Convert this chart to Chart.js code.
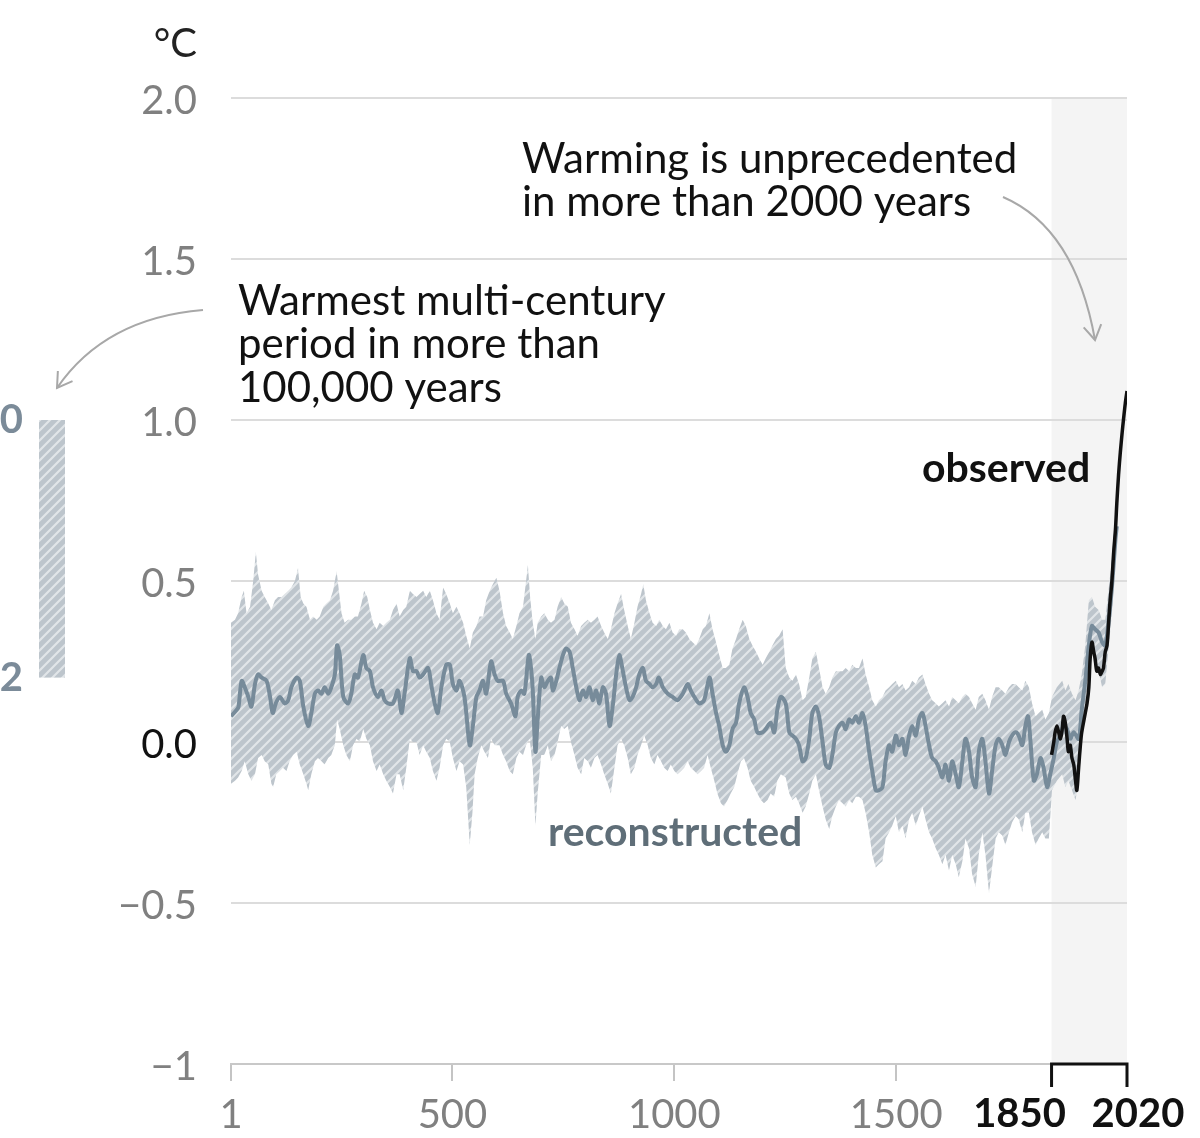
<!DOCTYPE html>
<html>
<head>
<meta charset="utf-8">
<title>Global surface temperature, years 1–2020</title>
<script src="https://cdn.jsdelivr.net/npm/chart.js@4.4.1/dist/chart.umd.min.js"></script>
<style>
  html, body { margin: 0; padding: 0; background: #fff; }
  #wrap { width: 1200px; height: 1138px; }
</style>
</head>
<body>
<div id="wrap"><canvas id="chart" width="1200" height="1138"></canvas></div>
<script>
// reconstructed median (°C relative to 1850-1900)
const medianYears = [1,14,18,25,32,40,47,55,62,70,81,89,95,102,111,122,130,137,149,156,164,175,182,190,197,205,212,220,227,235,240,246,254,265,272,280,287,299,306,314,321,332,340,347,355,366,377,385,392,404,411,419,426,434,445,452,460,467,475,486,494,501,509,516,527,539,546,554,561,569,576,587,595,602,
  614,621,632,642,647,655,662,672,677,681,687,692,700,707,715,722,726,734,741,749,756,764,771,779,786,794,801,809,816,824,831,839,846,854,861,869,876,884,891,899,906,914,921,929,936,944,951,959,965,974,985,996,1007,1019,1030,1037,1045,1056,1067,1079,1086,1094,1101,1109,1116,1124,1131,1139,1146,1157,1165,1172,1180,1187,1199,1206,1217,1225,1232,1240,
  1251,1259,1266,1274,1281,1289,1296,1304,1311,1319,1326,1334,1341,1349,1356,1364,1371,1379,1386,1394,1401,1409,1416,1424,1431,1439,1446,1454,1461,1469,1476,1484,1491,1499,1506,1514,1521,1529,1536,1544,1551,1559,1566,1574,1581,1589,1596,1604,1611,1619,1626,1634,1641,1649,1656,1664,1671,1679,1686,1694,1701,1709,1716,1724,1731,1739,1746,1754,1761,1769,1776,1784,1791,1797,1802,1810,1817,1825,1832,1840,1847,1855,1862,1870,1877,1885,1892,1900,1911,1918,1926,1934,1941,1948,1956,1964,1971,1979,1986,1994,1997];
const medianTemps = [0.08,0.10,0.11,0.19,0.17,0.14,0.11,0.18,0.21,0.20,0.19,0.14,0.09,0.12,0.14,0.12,0.13,0.17,0.20,0.19,0.11,0.05,0.09,0.15,0.16,0.15,0.17,0.15,0.17,0.21,0.30,0.27,0.14,0.12,0.15,0.21,0.20,0.27,0.23,0.22,0.17,0.14,0.16,0.13,0.12,0.12,0.16,0.09,0.15,0.26,0.22,0.22,0.20,0.21,0.23,0.18,0.12,0.09,0.17,0.24,0.24,0.18,0.16,0.19,0.14,-0.01,0.05,0.14,0.16,0.19,0.15,0.25,0.21,0.19,
  0.19,0.15,0.12,0.08,0.14,0.16,0.15,0.27,0.23,0.16,-0.03,0.07,0.20,0.17,0.19,0.20,0.16,0.19,0.23,0.27,0.29,0.28,0.23,0.17,0.13,0.16,0.14,0.17,0.13,0.16,0.12,0.17,0.15,0.05,0.11,0.21,0.27,0.22,0.17,0.13,0.14,0.17,0.21,0.23,0.19,0.18,0.17,0.18,0.20,0.17,0.15,0.14,0.13,0.15,0.18,0.16,0.14,0.12,0.13,0.20,0.15,0.09,0.05,-0.01,-0.03,-0.01,0.04,0.06,0.12,0.17,0.14,0.09,0.07,0.03,0.03,0.04,0.06,0.03,0.10,0.14,
  0.12,0.03,0.02,0.01,-0.01,-0.06,-0.05,0.01,0.09,0.11,0.08,0.00,-0.07,-0.08,-0.04,0.03,0.05,0.06,0.04,0.07,0.06,0.08,0.06,0.09,0.05,-0.03,-0.09,-0.15,-0.15,-0.14,-0.06,-0.01,-0.03,0.02,-0.01,0.01,-0.04,0.02,0.05,0.02,0.07,0.09,0.05,-0.01,-0.05,-0.06,-0.08,-0.11,-0.07,-0.12,-0.06,-0.10,-0.14,-0.06,0.01,-0.03,-0.11,-0.14,-0.03,0.01,-0.06,-0.16,-0.09,-0.01,0.01,-0.01,-0.04,0.00,0.02,0.03,0.02,-0.01,0.05,0.08,0.01,-0.12,-0.10,-0.05,-0.08,-0.14,-0.10,-0.05,0.00,0.02,0.05,0.04,0.01,0.03,0.01,0.10,0.19,0.30,0.36,0.35,0.34,0.31,0.30,0.38,0.48,0.63,0.67];

// upper edge of the reconstruction range
const upperYears = [1,10,17,25,30,36,44,51,57,62,70,77,85,92,100,107,115,122,130,137,145,152,158,164,171,179,186,194,201,209,216,224,231,239,245,250,257,265,272,280,287,295,301,308,314,321,329,336,344,351,359,366,374,381,389,396,404,411,419,426,434,441,449,456,464,471,479,486,494,501,509,516,524,531,539,546,554,561,569,576,584,591,599,
  606,614,621,629,636,644,651,659,665,670,675,681,687,692,700,707,715,722,730,737,745,752,760,767,775,782,790,797,805,812,820,827,835,842,850,857,865,872,880,887,895,902,910,917,925,930,936,944,951,959,966,974,981,989,996,1004,1011,1019,1026,1034,1041,1049,1056,1064,1071,1079,1086,1094,1101,1109,1116,1124,1131,1139,1146,1154,1161,1169,1176,1184,1191,1199,1206,1214,1221,1229,1236,1244,
  1251,1259,1266,1274,1281,1289,1296,1304,1311,1319,1326,1334,1341,1349,1356,1364,1371,1379,1386,1394,1401,1409,1416,1424,1431,1439,1446,1454,1461,1469,1476,1484,1491,1499,1506,1514,1521,1529,1536,1544,1551,1559,1566,1574,1581,1589,1596,1604,1611,1619,1626,1634,1641,1649,1656,1664,1671,1679,1686,1694,1701,1709,1716,1724,1731,1739,1746,1754,1761,1769,1776,1784,1791,1799,1806,1814,1821,1829,1836,1844,1851,1862,1874,1881,1888,1896,1904,1911,1918,1926,1934,1941,1948,1956,1964,1971,1979,1986,1994,1997];
const upperTemps = [0.37,0.38,0.40,0.45,0.47,0.40,0.42,0.50,0.59,0.52,0.47,0.45,0.43,0.41,0.44,0.45,0.45,0.46,0.47,0.48,0.50,0.54,0.45,0.43,0.42,0.38,0.39,0.38,0.39,0.42,0.43,0.44,0.47,0.53,0.46,0.40,0.37,0.38,0.38,0.39,0.39,0.43,0.47,0.45,0.41,0.37,0.35,0.37,0.36,0.37,0.38,0.41,0.43,0.39,0.41,0.42,0.47,0.46,0.45,0.46,0.47,0.45,0.47,0.44,0.40,0.38,0.48,0.46,0.43,0.40,0.42,0.40,0.37,0.33,0.29,0.34,0.36,0.39,0.39,0.44,0.47,0.49,0.51,
  0.47,0.40,0.36,0.34,0.32,0.36,0.40,0.42,0.49,0.55,0.45,0.37,0.32,0.37,0.39,0.40,0.38,0.37,0.38,0.42,0.45,0.43,0.42,0.37,0.35,0.33,0.36,0.37,0.38,0.37,0.38,0.39,0.36,0.34,0.32,0.35,0.40,0.43,0.46,0.41,0.36,0.32,0.37,0.42,0.46,0.49,0.44,0.40,0.37,0.36,0.38,0.36,0.35,0.37,0.34,0.33,0.35,0.35,0.34,0.32,0.31,0.30,0.32,0.35,0.36,0.40,0.35,0.31,0.27,0.23,0.23,0.24,0.29,0.32,0.35,0.38,0.36,0.32,0.30,0.28,0.26,0.24,0.26,0.28,0.30,0.32,0.33,0.35,
  0.23,0.20,0.19,0.21,0.18,0.13,0.14,0.20,0.26,0.28,0.23,0.17,0.15,0.17,0.20,0.22,0.22,0.22,0.23,0.22,0.24,0.23,0.23,0.26,0.21,0.17,0.13,0.11,0.13,0.14,0.16,0.17,0.18,0.19,0.17,0.18,0.16,0.17,0.19,0.18,0.20,0.21,0.18,0.15,0.13,0.12,0.11,0.12,0.13,0.11,0.14,0.13,0.12,0.14,0.15,0.14,0.12,0.10,0.14,0.15,0.13,0.10,0.14,0.17,0.17,0.16,0.15,0.17,0.18,0.18,0.17,0.16,0.19,0.17,0.12,0.08,0.09,0.10,0.07,0.09,0.14,0.17,0.19,0.16,0.18,0.15,0.13,0.16,0.21,0.30,0.44,0.45,0.42,0.41,0.38,0.38,0.48,0.57,0.67,0.72];

// lower edge of the reconstruction range
const lowerYears = [1,10,17,25,32,40,47,55,62,70,77,85,92,96,103,111,118,126,133,141,149,156,164,171,175,182,190,197,205,212,220,227,235,240,246,254,261,269,276,284,291,299,306,314,321,329,336,344,351,359,366,374,381,389,396,404,411,419,426,434,441,449,456,464,471,479,486,494,501,509,516,524,531,539,545,550,557,565,572,580,587,595,
  606,614,621,629,636,644,651,659,666,674,681,687,692,700,707,715,722,730,737,745,752,760,767,775,782,790,797,805,812,820,827,835,842,850,857,865,872,880,887,895,902,910,917,925,932,940,947,955,962,970,977,985,992,1000,1007,1015,1022,1030,1037,1045,1052,1060,1067,1075,1082,1090,1097,1105,1112,1120,1127,1135,1142,1150,1157,1165,1172,1180,1187,1195,1202,1210,1217,1225,1232,1240,
  1251,1259,1266,1274,1281,1289,1296,1304,1311,1319,1326,1334,1341,1349,1356,1364,1371,1379,1386,1394,1401,1409,1416,1424,1431,1439,1446,1454,1461,1469,1476,1484,1491,1499,1506,1514,1521,1529,1536,1544,1551,1559,1566,1574,1581,1589,1596,1604,1611,1619,1626,1634,1641,1649,1656,1664,1671,1679,1686,1694,1701,1709,1716,1724,1731,1739,1746,1754,1761,1769,1776,1784,1791,1799,1806,1814,1821,1829,1836,1844,1851,1862,1874,1881,1888,1896,1904,1911,1918,1926,1934,1941,1948,1956,1964,1971,1979,1986,1994,1997];
const lowerTemps = [-0.13,-0.12,-0.11,-0.09,-0.06,-0.10,-0.12,-0.10,-0.05,-0.04,-0.06,-0.07,-0.13,-0.14,-0.10,-0.09,-0.08,-0.09,-0.06,-0.04,-0.03,-0.07,-0.10,-0.13,-0.15,-0.10,-0.06,-0.05,-0.06,-0.07,-0.05,-0.04,-0.01,0.07,0.04,-0.01,-0.04,-0.06,-0.01,0.01,0.00,0.04,0.01,-0.01,-0.06,-0.09,-0.07,-0.10,-0.12,-0.14,-0.16,-0.10,-0.10,-0.15,-0.08,0.01,0.00,0.00,-0.04,-0.01,-0.03,-0.05,-0.09,-0.12,-0.08,-0.01,0.01,0.00,-0.05,-0.09,-0.06,-0.07,-0.14,-0.32,-0.22,-0.10,-0.05,-0.01,-0.03,-0.05,0.01,-0.01,
  -0.01,-0.04,-0.06,-0.09,-0.10,-0.05,-0.03,-0.04,-0.01,0.01,-0.08,-0.26,-0.16,-0.04,-0.04,-0.01,-0.06,-0.04,0.00,0.05,0.04,0.05,0.00,-0.04,-0.08,-0.10,-0.05,-0.06,-0.08,-0.05,-0.04,-0.07,-0.10,-0.13,-0.16,-0.08,-0.01,0.01,-0.01,-0.05,-0.10,-0.08,-0.04,-0.01,0.02,-0.01,-0.05,-0.07,-0.04,-0.06,-0.08,-0.09,-0.07,-0.09,-0.10,-0.09,-0.08,-0.06,-0.08,-0.09,-0.10,-0.09,-0.08,-0.04,-0.08,-0.12,-0.16,-0.19,-0.20,-0.18,-0.16,-0.14,-0.10,-0.06,-0.05,-0.08,-0.12,-0.14,-0.16,-0.18,-0.19,-0.18,-0.16,-0.17,-0.12,-0.10,
  -0.11,-0.16,-0.18,-0.17,-0.19,-0.22,-0.20,-0.16,-0.12,-0.10,-0.15,-0.20,-0.24,-0.27,-0.23,-0.20,-0.18,-0.19,-0.20,-0.18,-0.19,-0.17,-0.17,-0.18,-0.22,-0.28,-0.35,-0.39,-0.38,-0.37,-0.30,-0.28,-0.26,-0.23,-0.28,-0.26,-0.30,-0.24,-0.22,-0.26,-0.23,-0.20,-0.24,-0.28,-0.30,-0.33,-0.35,-0.38,-0.35,-0.40,-0.35,-0.38,-0.42,-0.37,-0.30,-0.33,-0.41,-0.45,-0.35,-0.28,-0.35,-0.47,-0.39,-0.30,-0.28,-0.29,-0.32,-0.28,-0.25,-0.23,-0.24,-0.28,-0.22,-0.22,-0.28,-0.32,-0.30,-0.28,-0.30,-0.30,-0.15,-0.12,-0.10,-0.14,-0.12,-0.15,-0.18,-0.12,-0.01,0.09,0.19,0.28,0.23,0.22,0.17,0.18,0.30,0.40,0.59,0.62];

// observed
const observedYears = [1850,1855,1858,1862,1866,1870,1874,1877,1881,1885,1888,1892,1896,1900,1904,1907,1911,1915,1918,1926,1930,1934,1937,1941,1945,1948,1952,1956,1960,1964,1967,1971,1975,1979,1982,1986,1990,1994,1997,2001,2005,2009,2012,2016,2020];
const observedTemps = [-0.04,0.00,0.03,0.05,0.03,0.01,0.04,0.08,0.06,0.01,-0.03,-0.01,-0.05,-0.07,-0.12,-0.15,-0.08,-0.01,0.03,0.09,0.12,0.17,0.26,0.31,0.28,0.26,0.22,0.23,0.21,0.22,0.23,0.28,0.30,0.38,0.44,0.50,0.59,0.66,0.74,0.83,0.90,0.96,1.00,1.05,1.09];

const xTickYears = [1, 500, 1000, 1500, 1850, 2020];
const bracketYears = [1850, 2020];
const yTickValues = [-1, -0.5, 0, 0.5, 1, 1.5, 2];
const yTickLabels = ['\u22121', '\u22120.5', '0.0', '0.5', '1.0', '1.5', '2.0'];
const warmestPeriod = [0.2, 1.0];   // warmest multi-century period, °C
const warmestLabels = ['0.2', '1.0'];

const FONT = 'Lato, "Open Sans", sans-serif';

function toPoints(xs, ys) {
  return xs.map((x, i) => ({ x: x, y: ys[i] }));
}

function makeHatch() {
  const s = 10;
  const c = document.createElement('canvas');
  c.width = s; c.height = s;
  const g = c.getContext('2d');
  g.fillStyle = '#bdc5cc';
  g.fillRect(0, 0, s, s);
  g.strokeStyle = 'rgba(255,255,255,0.55)';
  g.lineWidth = 2.2;
  g.beginPath();
  g.moveTo(0, s); g.lineTo(s, 0);
  g.moveTo(-s / 2, s / 2); g.lineTo(s / 2, -s / 2);
  g.moveTo(s / 2, s * 1.5); g.lineTo(s * 1.5, s / 2);
  g.stroke();
  return g.createPattern(c, 'repeat');
}
const hatch = makeHatch();

function drawArrow(ctx, x0, y0, cx, cy, x1, y1) {
  ctx.beginPath();
  ctx.moveTo(x0, y0);
  ctx.quadraticCurveTo(cx, cy, x1, y1);
  ctx.stroke();
  const a = Math.atan2(y1 - cy, x1 - cx);
  const len = 17, spread = 0.55;
  ctx.beginPath();
  ctx.moveTo(x1 - len * Math.cos(a - spread), y1 - len * Math.sin(a - spread));
  ctx.lineTo(x1, y1);
  ctx.lineTo(x1 - len * Math.cos(a + spread), y1 - len * Math.sin(a + spread));
  ctx.stroke();
}

const extras = {
  id: 'extras',
  beforeDraw(chart) {
    const { ctx, chartArea, scales } = chart;
    const x0 = scales.x.getPixelForValue(bracketYears[0]);
    const x1 = scales.x.getPixelForValue(bracketYears[1]);
    ctx.save();
    ctx.fillStyle = '#f4f4f4';
    ctx.fillRect(x0, chartArea.top, x1 - x0, chartArea.bottom - chartArea.top);
    ctx.restore();
  },
  afterDraw(chart) {
    const { ctx, chartArea, scales } = chart;
    const x = scales.x, y = scales.y;
    ctx.save();

    // black bracket under 1850-2020
    const b0 = x.getPixelForValue(bracketYears[0]);
    const b1 = x.getPixelForValue(bracketYears[1]);
    const yb = chartArea.bottom;
    ctx.strokeStyle = '#111';
    ctx.lineWidth = 3;
    ctx.beginPath();
    ctx.moveTo(b0, yb + 23); ctx.lineTo(b0, yb); ctx.lineTo(b1, yb); ctx.lineTo(b1, yb + 23);
    ctx.stroke();

    ctx.fillStyle = '#111';
    ctx.font = 'bold 40px ' + FONT;
    ctx.textBaseline = 'alphabetic';
    ctx.textAlign = 'center';
    ctx.fillText(String(bracketYears[0]), b0 - 32, 1127);
    ctx.fillText(String(bracketYears[1]), b1 + 11, 1127);

    // left bar: warmest multi-century period
    const yTop = y.getPixelForValue(warmestPeriod[1]);
    const yBot = y.getPixelForValue(warmestPeriod[0]);
    ctx.fillStyle = hatch;
    ctx.fillRect(39, yTop, 26, yBot - yTop);
    ctx.fillStyle = '#7b8b99';
    ctx.font = 'bold 40px ' + FONT;
    ctx.textAlign = 'right';
    ctx.textBaseline = 'middle';
    ctx.fillText(warmestLabels[1], 23, yTop);
    ctx.fillText(warmestLabels[0], 23, yBot);

    // unit
    ctx.fillStyle = '#222';
    ctx.font = '40px ' + FONT;
    ctx.textAlign = 'right';
    ctx.textBaseline = 'alphabetic';
    ctx.fillText('\u00B0C', 197, 57);

    // annotations
    ctx.font = '42px ' + FONT;
    ctx.fillStyle = '#111';
    ctx.textAlign = 'left';
    ctx.fillText('Warmest multi-century', 238, 315);
    ctx.fillText('period in more than', 238, 358);
    ctx.fillText('100,000 years', 238, 402);
    ctx.fillText('Warming is unprecedented', 522, 173);
    ctx.fillText('in more than 2000 years', 522, 216);

    ctx.font = 'bold 41px ' + FONT;
    ctx.fillStyle = '#111';
    ctx.fillText('observed', 922, 482);
    ctx.fillStyle = '#5f6e78';
    ctx.fillText('reconstructed', 548, 846);

    // arrows
    ctx.strokeStyle = '#a8a8a8';
    ctx.lineWidth = 2;
    drawArrow(ctx, 203, 310, 105, 318, 57, 388);
    drawArrow(ctx, 1003, 197, 1075, 228, 1095, 340);

    ctx.restore();
  }
};

const ctx = document.getElementById('chart').getContext('2d');

new Chart(ctx, {
  type: 'line',
  data: {
    datasets: [
      {
        label: 'observed',
        data: toPoints(observedYears, observedTemps),
        borderColor: '#111',
        borderWidth: 3.5,
        pointRadius: 0,
        tension: 0.3,
        fill: false,
        order: 0
      },
      {
        label: 'reconstructed',
        data: toPoints(medianYears, medianTemps),
        borderColor: '#778b9a',
        borderWidth: 4,
        pointRadius: 0,
        tension: 0.3,
        fill: false,
        order: 1
      },
      {
        label: 'upper',
        data: toPoints(upperYears, upperTemps),
        borderWidth: 0,
        borderColor: 'rgba(0,0,0,0)',
        backgroundColor: hatch,
        pointRadius: 0,
        tension: 0,
        fill: { target: 3 },
        order: 2
      },
      {
        label: 'lower',
        data: toPoints(lowerYears, lowerTemps),
        borderWidth: 0,
        borderColor: 'rgba(0,0,0,0)',
        pointRadius: 0,
        tension: 0,
        fill: false,
        order: 3
      }
    ]
  },
  options: {
    responsive: false,
    animation: false,
    events: [],
    layout: { padding: { top: 98, right: 73, left: 0, bottom: 0 } },
    plugins: {
      legend: { display: false },
      tooltip: { enabled: false },
      title: { display: false }
    },
    scales: {
      x: {
        type: 'linear',
        min: 1,
        max: 2020,
        afterBuildTicks: (scale) => { scale.ticks = xTickYears.map(v => ({ value: v })); },
        afterFit: (scale) => { scale.height = 74; },
        grid: {
          drawOnChartArea: false,
          drawTicks: true,
          tickLength: 17,
          lineWidth: 2,
          color: (c) => (c.tick && c.tick.value >= bracketYears[0]) ? 'rgba(0,0,0,0)' : '#c4c4c4'
        },
        border: { display: true, color: '#c8c8c8', width: 2 },
        ticks: {
          autoSkip: false,
          maxRotation: 0,
          padding: 10,
          color: '#808080',
          font: { family: FONT, size: 40 },
          callback: (v) => bracketYears.includes(v) ? '' : String(v)
        }
      },
      y: {
        min: -1,
        max: 2,
        afterBuildTicks: (scale) => { scale.ticks = yTickValues.map(v => ({ value: v })); },
        afterFit: (scale) => { scale.width = 231; },
        grid: {
          drawTicks: false,
          lineWidth: 2,
          color: '#dcdcdc'
        },
        border: { display: false },
        ticks: {
          padding: 34,
          labelOffset: 3,
          font: { family: FONT, size: 40 },
          color: (c) => (c.tick && c.tick.value === 0) ? '#111' : '#808080',
          callback: (v) => yTickLabels[yTickValues.indexOf(v)]
        }
      }
    }
  },
  plugins: [extras]
});
</script>
</body>
</html>
